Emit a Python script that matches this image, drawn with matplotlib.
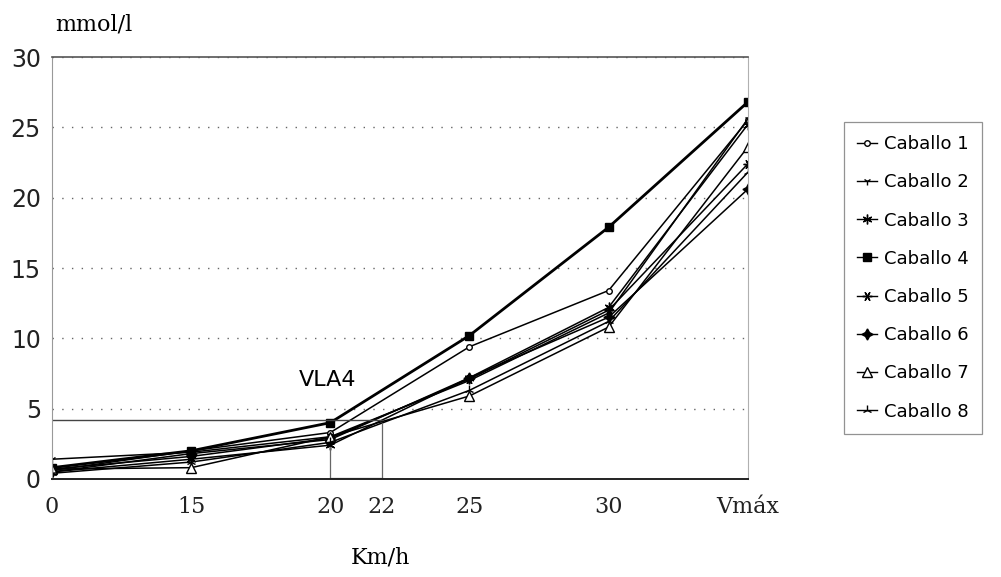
import matplotlib.pyplot as plt
import numpy as np

# x categories (equally spaced on the chart)
x_labels = ["0", "15", "20", "25", "30", "Vmáx"]
x_pos = np.arange(len(x_labels))

# lactate (mmol/l) per horse
caballo1 = [0.6, 2.0, 3.3, 9.4, 13.4, 25.5]
caballo2 = [1.4, 1.9, 3.0, 7.0, 11.8, 25.6]
caballo3 = [0.5, 1.4, 2.4, 7.2, 12.2, 25.2]
caballo4 = [0.8, 2.0, 4.0, 10.2, 17.9, 26.8]
caballo5 = [0.7, 1.6, 2.9, 7.1, 12.0, 22.4]
caballo6 = [0.5, 1.8, 2.8, 7.2, 11.5, 20.6]
caballo7 = [0.7, 0.8, 3.0, 5.9, 10.8, 23.6]
caballo8 = [0.4, 1.2, 2.6, 6.3, 11.2, 21.8]

vla4 = 4.2
x22 = 2.37  # position of 22 km/h between 20 and 25

series = [
    ("Caballo 1", caballo1, dict(marker="o", ms=4, mfc="white", lw=1.1)),
    ("Caballo 2", caballo2, dict(marker="1", ms=6, lw=1.1)),
    ("Caballo 3", caballo3, dict(marker=(6, 2, 0), ms=7, lw=1.1)),
    ("Caballo 4", caballo4, dict(marker="s", ms=6, lw=2.0)),
    ("Caballo 5", caballo5, dict(marker=(6, 2, 90), ms=7, lw=1.1)),
    ("Caballo 6", caballo6, dict(marker=(4, 1, 0), ms=8, lw=1.1)),
    ("Caballo 7", caballo7, dict(marker="^", ms=7, mfc="white", lw=1.1)),
    ("Caballo 8", caballo8, dict(marker="2", ms=7, lw=1.1)),
]

fig = plt.figure(figsize=(10.01, 5.77), dpi=100)
ax = fig.add_axes([0.052, 0.170, 0.695, 0.731])

for name, vals, st in series:
    ax.plot(x_pos, vals, color="black", mec="black", label=name, **st)

# VLA4 marks
ax.plot([0, x22], [vla4, vla4], color="#444444", lw=1.0)
ax.plot([x22, x22], [0, vla4 - 0.2], color="#666666", lw=0.9)
ax.plot([2, 2], [0, 2.3], color="#666666", lw=0.9)
ax.plot([2, x22], [0.05, 0.05], color="#666666", lw=0.9)
ax.text(1.98, 7.0, "VLA4", fontsize=16, ha="center", va="center",
        family="DejaVu Sans")

ax.set_xlim(0, 5)
ax.set_ylim(0, 30)
ax.set_yticks([0, 5, 10, 15, 20, 25, 30])
ax.set_yticklabels(["0", "5", "10", "15", "20", "25", "30"], fontsize=17,
                   family="DejaVu Sans", color="#222222")
ax.set_xticks(list(x_pos) + [x22])
ax.set_xticklabels(x_labels + ["22"], fontsize=16, family="DejaVu Serif",
                   color="#222222")
ax.tick_params(axis="y", length=0, pad=8)
ax.tick_params(axis="x", length=0, pad=12)

ax.yaxis.grid(True, linestyle=(0, (1, 6)), color="#666666", lw=1.0)
ax.set_axisbelow(True)
ax.spines["top"].set_color("#555555")
ax.spines["top"].set_linewidth(1.2)
ax.spines["left"].set_color("#999999")
ax.spines["left"].set_linewidth(0.8)
ax.spines["right"].set_color("#b0b0b0")
ax.spines["right"].set_linewidth(0.8)
ax.spines["bottom"].set_color("#222222")
ax.spines["bottom"].set_linewidth(1.4)

fig.text(0.055, 0.958, "mmol/l", fontsize=16, family="DejaVu Serif",
         ha="left", va="center")
fig.text(0.38, 0.033, "Km/h", fontsize=16, family="DejaVu Serif",
         ha="center", va="center")

leg = ax.legend(loc="upper left", bbox_to_anchor=(0.834, 0.805),
                bbox_transform=fig.transFigure, fontsize=13,
                handlelength=1.1, handletextpad=0.35, labelspacing=1.12,
                borderpad=0.75, fancybox=False, frameon=True)
leg.get_frame().set_edgecolor("#777777")
leg.get_frame().set_linewidth(0.9)
for h in leg.legend_handles:
    h.set_linewidth(1.0)

fig.savefig("out.png", dpi=100)
